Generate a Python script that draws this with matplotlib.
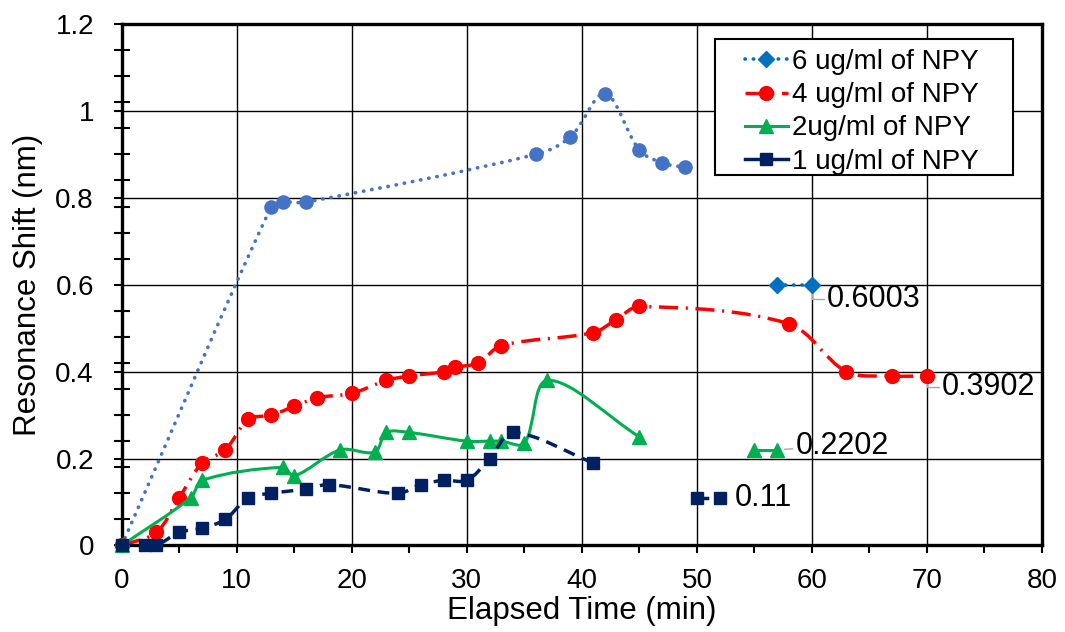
import numpy as np
import matplotlib
matplotlib.use("Agg")
import matplotlib.pyplot as plt
from matplotlib.path import Path
from matplotlib.patches import PathPatch, Rectangle
from matplotlib.lines import Line2D
from matplotlib.ticker import MultipleLocator, FuncFormatter

plt.rcParams["font.family"] = ["Liberation Sans", "DejaVu Sans"]

# ---------------------------------------------------------------------------
# Données
# ---------------------------------------------------------------------------
t_6 = [0, 13, 14, 16, 36, 39, 42, 45, 47, 49]
s_6 = [0, 0.78, 0.79, 0.79, 0.90, 0.94, 1.04, 0.91, 0.88, 0.87]

t_4 = [0, 3, 5, 7, 9, 11, 13, 15, 17, 20, 23, 25, 28, 29, 31, 33, 41, 43, 45, 58, 63, 67, 70]
s_4 = [0, 0.03, 0.11, 0.19, 0.22, 0.29, 0.30, 0.32, 0.34, 0.35, 0.38, 0.39, 0.40, 0.41,
       0.42, 0.46, 0.49, 0.52, 0.55, 0.51, 0.40, 0.39, 0.39]

t_2 = [0, 6, 7, 14, 15, 19, 22, 23, 25, 30, 32, 33, 35, 37, 45]
s_2 = [0, 0.11, 0.15, 0.18, 0.16, 0.22, 0.215, 0.26, 0.26, 0.24, 0.24, 0.24, 0.235, 0.38, 0.25]

t_1 = [0, 2, 3, 5, 7, 9, 11, 13, 16, 18, 24, 26, 28, 30, 32, 34, 41]
s_1 = [0, 0, 0, 0.03, 0.04, 0.06, 0.11, 0.12, 0.13, 0.14, 0.12, 0.14, 0.15, 0.15, 0.20,
       0.26, 0.19]

# séries isolées (légende) + étiquettes
t_6b, s_6b = [57, 60], [0.6003, 0.6003]
t_2b, s_2b = [55, 57], [0.2202, 0.2202]
t_1b, s_1b = [50, 52], [0.11, 0.11]

labels = ["6 ug/ml of NPY", "4 ug/ml of NPY", "2ug/ml of NPY", "1 ug/ml of NPY"]

C_BLUE = "#4472C4"
C_BLUE2 = "#0070C0"
C_RED = "#FF0000"
C_GREEN = "#00B050"
C_NAVY = "#002060"

DOT = (0, (0.1, 2.2))
DASHDOT = (0, (5.5, 2.2, 0.6, 2.2))
DASH = (0, (3.4, 2.2))


def smooth_path(ax, xs, ys):
    # courbe lissée façon Excel (Bézier, tangentes pondérées par la longueur des segments)
    pts = np.column_stack([xs, ys]).astype(float)
    disp = ax.transData.transform(pts)
    n = len(pts)
    verts = [pts[0]]
    codes = [Path.MOVETO]
    for i in range(n - 1):
        i0, i3 = max(i - 1, 0), min(i + 2, n - 1)
        d01 = np.hypot(*(disp[i] - disp[i0]))
        d12 = np.hypot(*(disp[i + 1] - disp[i]))
        d23 = np.hypot(*(disp[i3] - disp[i + 1]))
        k1 = d12 / (d01 + d12) / 3 if d01 + d12 > 0 else 0
        k2 = d12 / (d12 + d23) / 3 if d12 + d23 > 0 else 0
        c1 = pts[i] + (pts[i + 1] - pts[i0]) * k1
        c2 = pts[i + 1] - (pts[i3] - pts[i]) * k2
        verts += [c1, c2, pts[i + 1]]
        codes += [Path.CURVE4] * 3
    return Path(verts, codes)


def draw(ax, x, y, color, ls, lw, marker, ms, z, cap="butt"):
    patch = PathPatch(smooth_path(ax, x, y), fill=False, edgecolor=color, lw=lw,
                      linestyle=ls, capstyle=cap, zorder=z)
    ax.add_patch(patch)
    ax.plot(x, y, linestyle="none", marker=marker, ms=ms, color=color,
            mec=color, zorder=z + 0.1, clip_on=False)


fig = plt.figure(figsize=(10.65, 6.32), dpi=100)
ax = fig.add_axes([0.1143, 0.1369, 0.8641, 0.8251])
ax.set_xlim(0, 80)
ax.set_ylim(0, 1.2)

draw(ax, t_6, s_6, C_BLUE, DOT, 2.6, "o", 9.5, 3, cap="round")
draw(ax, t_4, s_4, C_RED, DASHDOT, 2.5, "o", 10, 4)
draw(ax, t_2, s_2, C_GREEN, "-", 2.2, "^", 10, 5)
draw(ax, t_1, s_1, C_NAVY, DASH, 2.5, "s", 9, 6)

# séries isolées
ax.plot(t_6b, s_6b, color=C_BLUE2, lw=2.6, linestyle=DOT, dash_capstyle="round",
        marker="D", ms=8, zorder=6)
ax.plot(t_2b, s_2b, color=C_GREEN, lw=2.2, marker="^", ms=10, zorder=6)
ax.plot(t_1b, s_1b, color=C_NAVY, lw=2.5, linestyle=DASH, marker="s", ms=9, zorder=6)

# étiquettes de valeurs
lead = dict(arrowstyle="-", color="#A6A6A6", lw=1, shrinkA=0, shrinkB=5,
            connectionstyle="angle,angleA=0,angleB=90,rad=0")
ax.annotate("0.6003", (t_6b[-1], s_6b[-1]), xytext=(11, -10), textcoords="offset points",
            fontsize=22, ha="left", va="center", arrowprops=lead)
ax.annotate("0.3902", (t_4[-1], s_4[-1]), xytext=(11, -8), textcoords="offset points",
            fontsize=22, ha="left", va="center", arrowprops=lead)
ax.annotate("0.2202", (t_2b[-1], s_2b[-1]), xytext=(13, 3), textcoords="offset points",
            fontsize=22, ha="left", va="center",
            arrowprops=dict(arrowstyle="-", color="#A6A6A6", lw=1, shrinkA=0, shrinkB=5))
ax.annotate("0.11", (t_1b[-1], s_1b[-1]), xytext=(11, 0), textcoords="offset points",
            fontsize=22, ha="left", va="center")

# axes
ax.xaxis.set_major_locator(MultipleLocator(10))
ax.xaxis.set_minor_locator(MultipleLocator(5))
ax.yaxis.set_major_locator(MultipleLocator(0.2))
ax.yaxis.set_minor_locator(MultipleLocator(0.06))
ax.yaxis.set_major_formatter(FuncFormatter(lambda v, p: f"{v:g}"))
ax.grid(which="major", color="black", lw=1.0)
ax.set_axisbelow(True)

ax.tick_params(axis="x", which="both", direction="out", length=6, width=1.5,
               labelsize=20, pad=10)
ax.tick_params(axis="y", which="major", direction="out", length=6, width=1.5,
               labelsize=20, pad=14)
ax.tick_params(axis="y", which="minor", direction="inout", length=12, width=1.5)
for sp in ax.spines.values():
    sp.set_linewidth(2.4)
    sp.set_zorder(2.5)

ax.set_xlabel("Elapsed Time (min)", fontsize=22.5)
ax.set_ylabel("Resonance Shift (nm)", fontsize=22.5)
ax.xaxis.set_label_coords(0.5, -0.097)
ax.yaxis.set_label_coords(-0.0855, 0.5)

# légende (cadre dessiné à part, plus large que le contenu comme dans Excel)
box = Rectangle((0.645, 0.7105), 0.9685 - 0.645, 0.971 - 0.7105, transform=ax.transAxes,
                facecolor="white", edgecolor="black", lw=1.5, zorder=19)
ax.add_patch(box)
handles = [
    Line2D([], [], color=C_BLUE2, lw=2.6, linestyle=DOT, dash_capstyle="round", marker="D", ms=8),
    Line2D([], [], color=C_RED, lw=2.5, linestyle=DASHDOT, marker="o", ms=10),
    Line2D([], [], color=C_GREEN, lw=2.2, marker="^", ms=10),
    Line2D([], [], color=C_NAVY, lw=2.5, marker="s", ms=9),
]
leg = ax.legend(handles, labels, loc="upper left", bbox_to_anchor=(0.677, 0.952),
                borderaxespad=0, borderpad=0, fontsize=20, frameon=False,
                numpoints=1, handlelength=1.55, handletextpad=0.15, labelspacing=0.26)
leg.set_zorder(20)

fig.savefig("out.png", dpi=100)
